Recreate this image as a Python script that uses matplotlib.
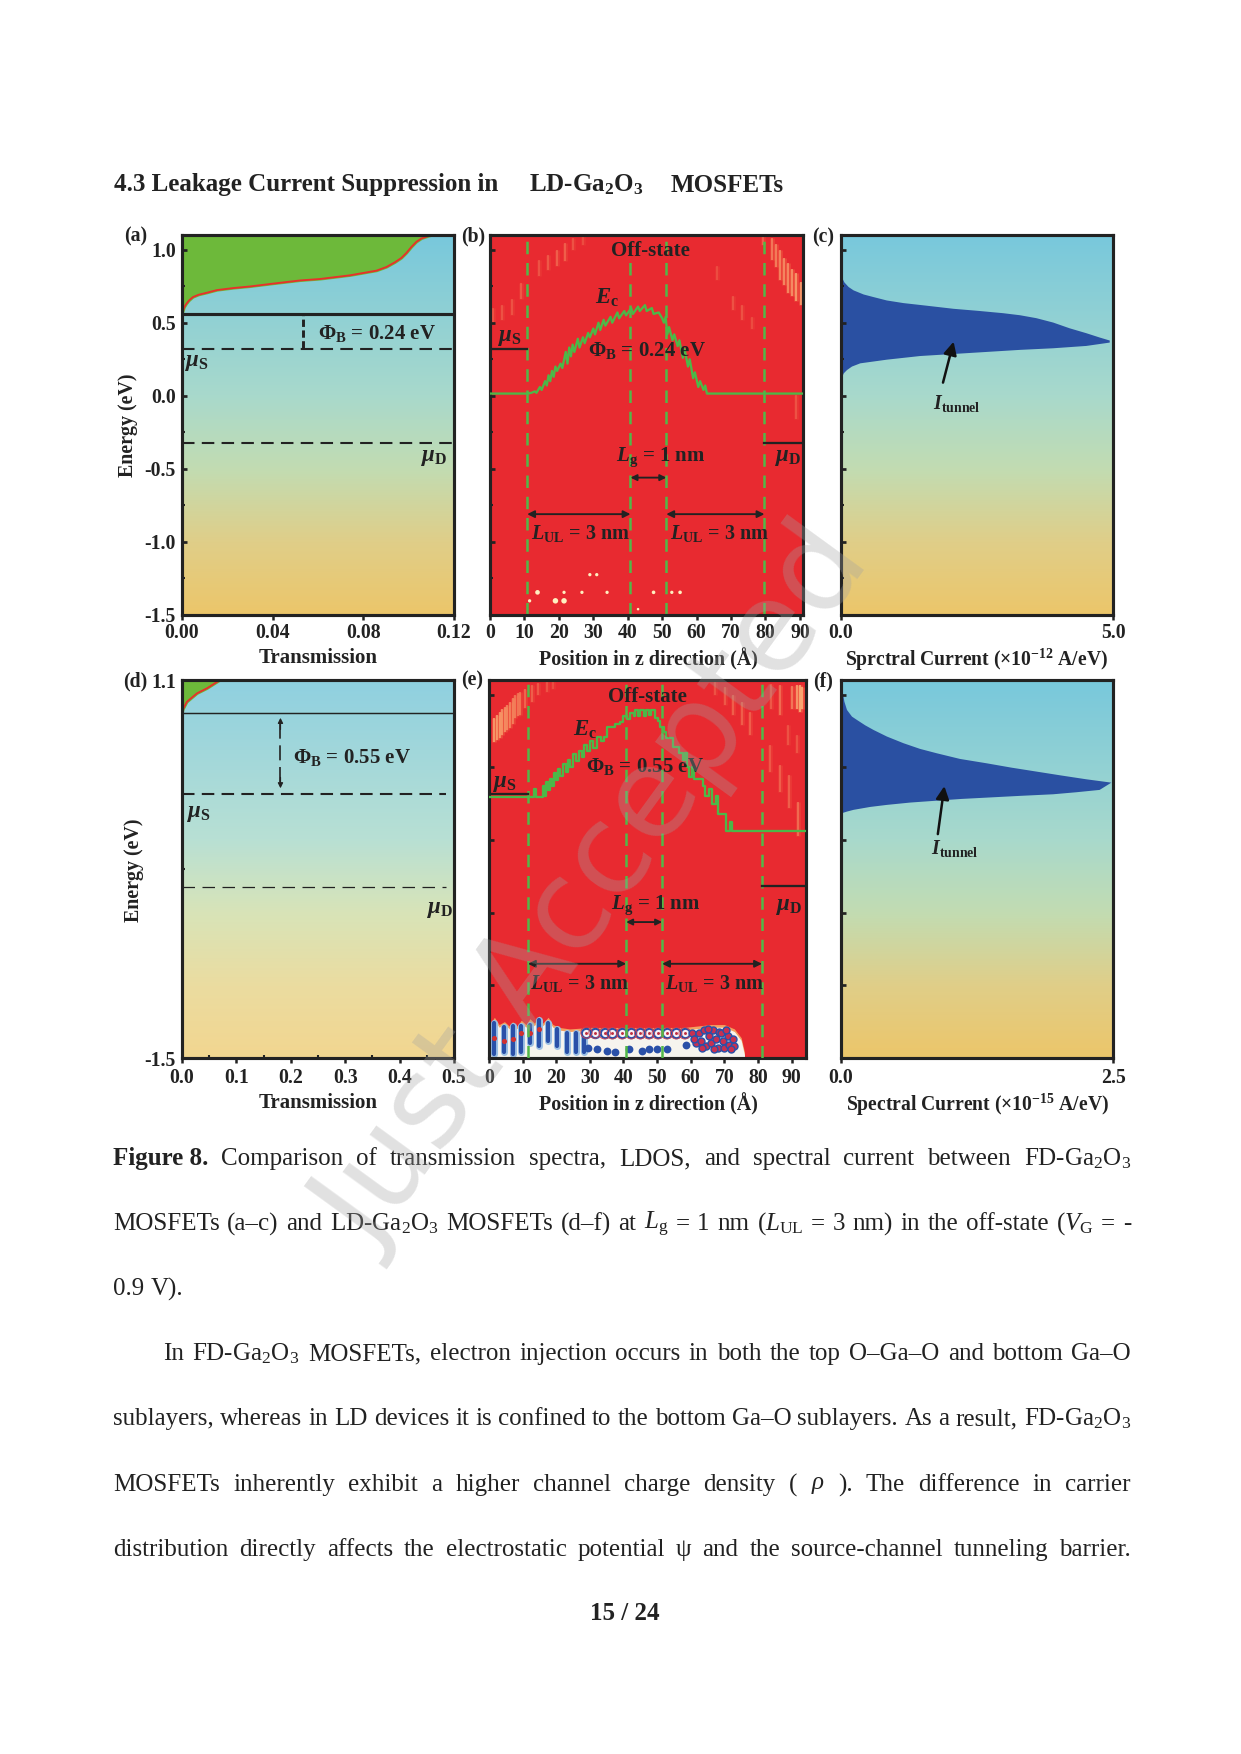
import numpy as np
import matplotlib
matplotlib.use('Agg')
import matplotlib.pyplot as plt
from matplotlib.colors import LinearSegmentedColormap

plt.rcParams.update({
    'font.family': ['Liberation Serif', 'DejaVu Sans'],
    'font.weight': 'bold',
    'mathtext.fontset': 'custom',
    'mathtext.default': 'regular',
    'mathtext.rm': 'Liberation Serif:normal',
    'mathtext.it': 'Liberation Serif:italic:normal',
    'mathtext.bf': 'Liberation Serif:bold',
    'mathtext.bfit': 'Liberation Serif:italic:bold',
    'axes.linewidth': 1.5,
    'text.color': '#222222',
    'axes.edgecolor': '#222222',
    'xtick.color': '#222222',
    'ytick.color': '#222222',
})

W, H, DPI = 1241, 1754, 150

# ---------------- data ----------------
T_a = [0, 0.0004, 0.001, 0.0019, 0.0031, 0.0048, 0.0073, 0.011, 0.0154, 0.0227, 0.0301, 0.0411, 0.0521, 0.0609, 0.0667, 0.0741,
       0.0814, 0.0858, 0.0902, 0.0939, 0.0968, 0.099, 0.1012, 0.1034, 0.1056, 0.1086, 0.1105]
E_a = [0.56, 0.577, 0.606, 0.629, 0.652, 0.675, 0.691, 0.705, 0.723, 0.737, 0.748, 0.769, 0.789, 0.799, 0.81, 0.824,
       0.844, 0.856, 0.881, 0.913, 0.943, 0.977, 1.018, 1.053, 1.076, 1.092, 1.10]
T_d = [0, 0.002, 0.009, 0.0275, 0.046, 0.07]
E_d = [0.87, 0.90, 0.95, 1.008, 1.043, 1.10]

I_c_up = [0, 0.024, 0.061, 0.14, 0.232, 0.416, 0.6, 0.843, 1.15, 1.58, 2.07, 2.52, 2.98, 3.29, 3.59, 3.9, 4.2, 4.51, 4.76, 4.94]
E_c_up = [0.84, 0.805, 0.776, 0.744, 0.721, 0.693, 0.675, 0.652, 0.634, 0.616, 0.595, 0.581, 0.565, 0.551, 0.531, 0.501, 0.462, 0.428, 0.398, 0.378]
I_c_lo = [4.94, 4.51, 3.9, 3.29, 2.68, 2.07, 1.455, 0.843, 0.355, 0.202, 0.11, 0.05, 0.024, 0]
E_c_lo = [0.364, 0.341, 0.325, 0.314, 0.30, 0.286, 0.272, 0.247, 0.222, 0.20, 0.176, 0.153, 0.13, 0.12]

I_f_up = [0, 0.018, 0.031, 0.055, 0.101, 0.147, 0.223, 0.30, 0.422, 0.575, 0.727, 0.88, 1.094, 1.339, 1.568, 1.797, 2.026, 2.255, 2.485]
E_f_up = [1.05, 1.008, 0.951, 0.894, 0.848, 0.825, 0.788, 0.756, 0.711, 0.665, 0.626, 0.596, 0.557, 0.527, 0.497, 0.47, 0.443, 0.417, 0.394]
I_f_lo = [2.377, 2.164, 1.95, 1.644, 1.339, 1.109, 0.88, 0.636, 0.422, 0.269, 0.116, 0.055, 0.009, 0]
E_f_lo = [0.344, 0.328, 0.314, 0.303, 0.291, 0.282, 0.27, 0.257, 0.241, 0.227, 0.207, 0.195, 0.184, 0.18]

Z_b = [0, 10.8, 12, 13, 13.5, 14.5, 15, 16, 16.5, 17, 17.5, 18, 18.5, 19, 19.5, 20.5, 21, 22, 22.5, 23, 23.5, 24, 24.5,
       25.5, 26, 27, 27.5, 28.5, 29, 30, 30.5, 31.5, 32, 33, 33.5, 35, 35.5, 37, 37.5, 39, 39.5, 41, 41.5, 43, 43.5,
       45, 45.5, 47, 47.5, 49, 50, 50.5, 51, 51.5, 52, 53, 53.5, 54.5, 55, 56, 56.5, 57.5, 58, 59, 59.5, 60.5, 61, 62,
       62.5, 63, 91]
E_b = [0.015, 0.015, 0.02, 0.03, 0.02, 0.06, 0.04, 0.10, 0.07, 0.14, 0.10, 0.17, 0.13, 0.20, 0.17, 0.22, 0.19, 0.30, 0.22,
       0.33, 0.27, 0.35, 0.30, 0.39, 0.33, 0.40, 0.36, 0.43, 0.40, 0.46, 0.42, 0.50, 0.45, 0.52, 0.48, 0.54, 0.50, 0.57,
       0.53, 0.58, 0.55, 0.60, 0.56, 0.61, 0.58, 0.62, 0.58, 0.60, 0.56, 0.57, 0.53, 0.50, 0.54, 0.42, 0.47, 0.38, 0.42,
       0.34, 0.38, 0.26, 0.32, 0.20, 0.25, 0.12, 0.16, 0.06, 0.10, 0.04, 0.07, 0.015, 0.015]

Z_e = [0, 13.5, 14, 16, 16.6, 17, 17.6, 18.2, 18.8, 19.4, 20, 20.6, 21.2, 22, 22.8, 23.4, 24.2, 25, 26, 26.8, 27.6, 28.2,
       29.2, 30, 31, 32, 33.4, 34.2, 35, 36.8, 37.5, 39, 39.8, 41, 42, 43, 43.4, 44.2, 44.8, 46, 46.6, 47.6, 48.2, 49.4,
       50.4, 51, 52, 52.6, 54, 54.6, 56, 56.6, 57.6, 58.4, 59, 59.6, 60.4, 61, 63.6, 64.4, 65.4, 66.2, 67.4, 68, 70, 70.5,
       71.8, 72.4, 94.3]
E_e = [0.295, 0.35, 0.295, 0.37, 0.30, 0.40, 0.34, 0.42, 0.37, 0.46, 0.41, 0.49, 0.44, 0.52, 0.47, 0.55, 0.50, 0.59, 0.54,
       0.61, 0.57, 0.65, 0.61, 0.68, 0.63, 0.71, 0.68, 0.71, 0.78, 0.78, 0.80, 0.81, 0.85, 0.83, 0.87, 0.85, 0.895, 0.85,
       0.895, 0.85, 0.895, 0.86, 0.895, 0.84, 0.82, 0.78, 0.74, 0.70, 0.70, 0.64, 0.64, 0.60, 0.55, 0.60, 0.50, 0.43, 0.50,
       0.42, 0.37, 0.30, 0.35, 0.25, 0.30, 0.18, 0.18, 0.06, 0.12, 0.06, 0.06]

# LDOS streaks: position, lower and upper energy, strength
sb_z = [0.97, 3.4, 6.3, 8.9, 14.2, 16.9, 19.4, 21.8, 24.2, 27.1, 79.4, 81.8, 83, 84.2, 85.4, 86.6, 87.8, 89, 90.2, 65.8, 70.7, 73.3, 76, 89]
sb_lo = [0.5, 0.52, 0.555, 0.66, 0.82, 0.86, 0.886, 0.92, 1.0, 1.034, 1.03, 0.93, 0.88, 0.79, 0.76, 0.70, 0.68, 0.645, 0.62, 0.795, 0.59, 0.52, 0.46, -0.16]
sb_hi = [0.6, 0.62, 0.66, 0.77, 0.93, 0.966, 1.0, 1.046, 1.08, 1.09, 1.09, 1.08, 1.04, 1.0, 0.94, 0.91, 0.87, 0.84, 0.78, 0.886, 0.68, 0.62, 0.54, 0.007]
sb_a = [0.3, 0.3, 0.3, 0.35, 0.3, 0.35, 0.4, 0.4, 0.3, 0.25, 0.4, 0.6, 0.65, 0.7, 0.75, 0.75, 0.8, 0.9, 0.9, 0.25, 0.3, 0.3, 0.25, 0.3]

se_z = [1.6, 2.5, 3.3, 4, 4.75, 5.5, 6.2, 7, 7.7, 8.5, 9.2, 10.7, 12.7, 14.7, 17.2, 19.1, 67.2, 70.2, 72.7, 75.2, 77.7, 83.6, 86.6, 89.1, 92,
        92.5, 93.2, 91.6, 90, 86.6, 84, 89, 91.6]
se_lo = [0.676, 0.69, 0.70, 0.72, 0.744, 0.755, 0.767, 0.80, 0.836, 0.85, 0.859, 0.905, 0.95, 0.996, 1.02, 1.04, 1.0, 0.93, 0.86, 0.79, 0.72, 0.47, 0.33, 0.22,
         0.03, 0.88, 0.90, 0.90, 0.90, 0.86, 0.90, 0.65, 0.60]
se_hi = [0.84, 0.86, 0.88, 0.90, 0.916, 0.93, 0.95, 0.975, 0.996, 1.01, 1.02, 1.04, 1.065, 1.08, 1.09, 1.09, 1.09, 1.05, 0.996, 0.95, 0.88, 0.65, 0.515, 0.45,
         0.26, 1.065, 1.05, 1.065, 1.06, 1.065, 1.07, 0.79, 0.72]
se_a = [0.9, 0.85, 0.8, 0.75, 0.7, 0.65, 0.65, 0.6, 0.55, 0.5, 0.5, 0.45, 0.4, 0.35, 0.3, 0.25, 0.3, 0.35, 0.4, 0.4, 0.4, 0.35, 0.4, 0.4, 0.5, 1.0, 1.0, 0.9, 0.6, 0.5, 0.35, 0.3, 0.3]

dots_b_z = [13.8, 19, 21.5, 29, 31, 21.5, 26.7, 34, 11.5, 47.5, 52.8, 55.2, 43]
dots_b_E = [-1.345, -1.403, -1.403, -1.224, -1.224, -1.345, -1.345, -1.345, -1.403, -1.345, -1.345, -1.345, -1.46]
dots_b_s = [5, 7, 7, 2.5, 2.5, 2.5, 2.5, 2.5, 2.5, 3, 2.5, 3, 1.5]

# standing-wave band at the bottom of panel (e)
band_z = [0.5, 1.6, 3, 4.6, 6, 7, 8.4, 9.6, 11, 12.2, 13.5, 14.9, 16, 17.6, 19, 21, 24, 30, 36, 42, 50, 58, 62, 66, 70, 73, 75, 76]
band_top = [-1.26, -1.22, -1.27, -1.25, -1.28, -1.25, -1.28, -1.24, -1.27, -1.23, -1.26, -1.21, -1.26, -1.22, -1.27, -1.29, -1.30, -1.29, -1.29, -1.29, -1.29,
            -1.29, -1.28, -1.27, -1.27, -1.30, -1.36, -1.46]
col_z = [1.6, 4.6, 7.0, 9.6, 12.2, 14.9, 17.6, 20.2, 23.2, 25.8, 28.3]
col_lo = [-1.47, -1.46, -1.47, -1.46, -1.40, -1.42, -1.38, -1.42, -1.46, -1.46, -1.46]
col_hi = [-1.26, -1.29, -1.28, -1.28, -1.27, -1.24, -1.26, -1.30, -1.33, -1.33, -1.32]
col_dot_E = [-1.36, -1.38, -1.37, -1.33, -1.33, -1.30]
ring_z = [29, 31.4, 34.4, 36.7, 39.6, 42.3, 45, 47.5, 50.2, 52.9, 55.7, 58.2]
ring_E = [-1.325, -1.325, -1.33, -1.33, -1.33, -1.33, -1.33, -1.33, -1.33, -1.33, -1.33, -1.33]
blob_z = [29.5, 32, 35, 37.5, 41.5, 45.5, 47.5, 50, 53, 58.5]
blob_E = [-1.43, -1.44, -1.45, -1.46, -1.44, -1.45, -1.44, -1.44, -1.44, -1.41]
clus_z = [60.5, 61.5, 62.5, 63, 64, 64.5, 65.5, 66, 66.5, 67.5, 68, 68.5, 69.5, 70, 71, 71.5, 72.5, 73, 61, 63.5, 65, 67, 69, 70.5, 72]
clus_E = [-1.33, -1.40, -1.33, -1.38, -1.31, -1.42, -1.35, -1.40, -1.31, -1.37, -1.43, -1.32, -1.38, -1.43, -1.35, -1.41, -1.37, -1.42,
          -1.37, -1.43, -1.30, -1.44, -1.33, -1.31, -1.44]

yticks_ab = [-1.5, -1.0, -0.5, 0.0, 0.5, 1.0]
yticklabs_a = ['-1.5', '-1.0', '-0.5', '0.0', '0.5', '1.0']
xt_a = [0, 0.04, 0.08, 0.12]
xl_a = ['0.00', '0.04', '0.08', '0.12']
xt_z = list(range(0, 100, 10))
xt_d = [0, 0.1, 0.2, 0.3, 0.4, 0.5]
xl_d = ['0.0', '0.1', '0.2', '0.3', '0.4', '0.5']

gate_b = [10.8, 40.8, 51.2, 79.7]
gate_e = [11.6, 40.8, 51.5, 81.2]

# ---------------- figure helpers ----------------
fig = plt.figure(figsize=(W / DPI, H / DPI), dpi=DPI, facecolor='white')


def box(l, t, r, b):
    return fig.add_axes([l / W, 1 - b / H, (r - l) / W, (b - t) / H])


def ptext(x, y, s, **kw):
    kw.setdefault('ha', 'left')
    kw.setdefault('va', 'center')
    kw.setdefault('zorder', 5)
    return fig.text(x / W, 1 - y / H, s, **kw)


CM1 = LinearSegmentedColormap.from_list('g1', [(0, '#ECC66A'), (0.19, '#E0CE88'), (0.385, '#C2DCB2'), (0.58, '#A8D9CC'), (1, '#78C8DC')])
CM2 = LinearSegmentedColormap.from_list('g2', [(0, '#F2D690'), (0.19, '#EBDCA0'), (0.385, '#D8E4B8'), (0.58, '#B8E0D4'), (1, '#8FD0E0')])


def gradient(ax, cmap, x1):
    g = np.linspace(1, 0, 256).reshape(-1, 1)
    ax.imshow(g, cmap=cmap, extent=[0, x1, -1.5, 1.1], aspect='auto', vmin=0, vmax=1, zorder=0)


def dress(ax, xt, xl, xlim, yt, yl=None, xminor=None, yminor=None, pad=2.0):
    ax.set_xlim(*xlim)
    ax.set_ylim(-1.5, 1.1)
    ax.set_xticks(xt, xl, fontsize=9.5, fontweight='bold')
    ax.set_yticks(yt, yl if yl else [''] * len(yt), fontsize=9.5, fontweight='bold')
    ax.tick_params(axis='x', direction='out', length=2.6, width=1.2, pad=pad)
    ax.tick_params(axis='y', direction='in', length=2.6, width=1.3, pad=3)
    if yminor:
        ax.set_yticks(yminor, minor=True)
        ax.tick_params(axis='y', which='minor', direction='in', length=1.5, width=1)
    if xminor:
        ax.set_xticks(xminor, minor=True)
        ax.tick_params(axis='x', which='minor', direction='in', length=1.5, width=1)


def arrow(ax, x0, y0, x1, y1, lw=0.9, ms=7):
    ax.annotate('', xy=(x1, y1), xytext=(x0, y0),
                arrowprops=dict(arrowstyle='<|-|>', color='#222222', lw=lw, mutation_scale=ms, shrinkA=0, shrinkB=0), zorder=6)


def streaks(ax, z, lo, hi, a):
    ax.vlines(z, lo, hi, colors=[(0.98, 0.62, 0.36, 0.35 * v) for v in a], lw=2.2, zorder=1)
    ax.vlines(z, lo, hi, colors=[(0.99, 0.74, 0.50, 0.75 * v) for v in a], lw=0.9, zorder=1)


minor_y = [-1.25, -0.75, -0.25, 0.25, 0.75]
FS = 10

# ---------------- panel a ----------------
ax = box(182, 235, 454, 615)
gradient(ax, CM1, 0.12)
ax.fill_betweenx(E_a, 0, T_a, color='#6DB93A', zorder=1)
ax.plot(T_a, E_a, color='#E8302A', lw=0.9, zorder=2)
ax.axhline(0.56, color='#222222', lw=1.5, zorder=3)
ax.plot([0, 0.12], [0.32, 0.32], color='#222222', lw=1.0, ls=(0, (6, 3.5)), zorder=3)
ax.plot([0, 0.12], [-0.32, -0.32], color='#222222', lw=1.0, ls=(0, (6, 3.5)), zorder=3)
ax.plot([0.0535, 0.0535], [0.33, 0.55], color='#222222', lw=1.4, ls=(0, (2.5, 1.2)), zorder=3)
ax.text(0.086, 0.425, r'$\mathbf{\Phi}_{\mathbf{B}}$ = 0.24 eV', fontsize=FS, ha='center', va='center')
ax.text(0.0015, 0.23, r'$\mathbfit{\mu}_{\mathbf{S}}$', fontsize=FS + 1, ha='left', va='center')
ax.text(0.1115, -0.425, r'$\mathbfit{\mu}_{\mathbf{D}}$', fontsize=FS + 1, ha='center', va='center')
dress(ax, xt_a, xl_a, (0, 0.12), yticks_ab, yticklabs_a, yminor=minor_y, pad=1.4)

# ---------------- panel b ----------------
ax = box(490, 235, 803, 615)
ax.set_facecolor('#E82A30')
streaks(ax, sb_z, sb_lo, sb_hi, sb_a)
ax.scatter(dots_b_z, dots_b_E, s=dots_b_s, color='#FFF0C0', lw=0, zorder=1)
for g in gate_b:
    ax.axvline(g, color='#52B848', lw=1.2, ls=(0, (5, 3.5)), zorder=2)
ax.plot(Z_b, E_b, color='#4CB848', lw=1.1, zorder=3)
ax.plot([0, gate_b[0]], [0.32, 0.32], color='#222222', lw=1.1, zorder=3)
ax.plot([gate_b[3], 91], [-0.32, -0.32], color='#222222', lw=1.1, zorder=3)
arrow(ax, gate_b[0], -0.81, gate_b[1], -0.81)
arrow(ax, gate_b[2], -0.81, gate_b[3], -0.81)
arrow(ax, gate_b[1], -0.56, gate_b[2], -0.56, ms=6)
ax.text(46.5, 0.99, 'Off-state', fontsize=FS, ha='center', va='center', zorder=6)
ax.text(34, 0.67, r'$\mathbfit{E}_{\mathbf{c}}$', fontsize=FS + 1, ha='center', va='center', zorder=6)
ax.text(45.6, 0.31, r'$\mathbf{\Phi}_{\mathbf{B}}$ = 0.24 eV', fontsize=FS, ha='center', va='center', zorder=6)
ax.text(5.8, 0.40, r'$\mathbfit{\mu}_{\mathbf{S}}$', fontsize=FS + 1, ha='center', va='center', zorder=6)
ax.text(86.5, -0.42, r'$\mathbfit{\mu}_{\mathbf{D}}$', fontsize=FS + 1, ha='center', va='center', zorder=6)
ax.text(49.6, -0.42, r'$\mathbfit{L}_{\mathbf{g}}$ = 1 nm', fontsize=FS, ha='center', va='center', zorder=6)
ax.text(26.2, -0.94, r'$\mathbfit{L}_{\mathbf{UL}}$ = 3 nm', fontsize=FS - 0.3, ha='center', va='center', zorder=6)
ax.text(66.6, -0.94, r'$\mathbfit{L}_{\mathbf{UL}}$ = 3 nm', fontsize=FS - 0.3, ha='center', va='center', zorder=6)
dress(ax, xt_z, [str(v) for v in xt_z], (0, 90.9), yticks_ab, yminor=minor_y, pad=1.4)

# ---------------- panel c ----------------
ax = box(841, 235, 1113, 615)
gradient(ax, CM1, 5)
ax.fill(I_c_up + I_c_lo, E_c_up + E_c_lo, color='#2A50A2', lw=0, zorder=1)
ax.annotate('', xy=(2.07, 0.37), xytext=(1.875, 0.09),
            arrowprops=dict(arrowstyle='-|>', color='#111111', lw=1.2, mutation_scale=13, shrinkA=0, shrinkB=0), zorder=4)
ax.text(2.13, -0.05, r'$\mathbfit{I}_{\mathbf{tunnel}}$', fontsize=FS - 0.5, ha='center', va='center')
dress(ax, [0, 5], ['0.0', '5.0'], (0, 5), yticks_ab, yminor=minor_y, pad=1.4)

# ---------------- panel d ----------------
ax = box(182, 680, 454, 1058)
gradient(ax, CM2, 0.5)
ax.fill_betweenx(E_d, 0, T_d, color='#6DB93A', zorder=1)
ax.plot(T_d, E_d, color='#E8302A', lw=0.9, zorder=2)
ax.axhline(0.87, color='#222222', lw=0.7, zorder=3)
ax.plot([0, 0.485], [0.317, 0.317], color='#222222', lw=1.0, ls=(0, (6, 3.5)), zorder=3)
ax.plot([0, 0.485], [-0.325, -0.325], color='#222222', lw=0.6, ls=(0, (10, 6)), zorder=3)
ax.plot([0.181, 0.181], [0.40, 0.80], color='#222222', lw=0.8, ls=(0, (9, 4)), zorder=3)
ax.annotate('', xy=(0.181, 0.84), xytext=(0.181, 0.76), arrowprops=dict(arrowstyle='-|>', color='#222222', lw=0.6, mutation_scale=5, shrinkA=0, shrinkB=0))
ax.annotate('', xy=(0.181, 0.355), xytext=(0.181, 0.43), arrowprops=dict(arrowstyle='-|>', color='#222222', lw=0.6, mutation_scale=5, shrinkA=0, shrinkB=0))
ax.text(0.312, 0.566, r'$\mathbf{\Phi}_{\mathbf{B}}$ = 0.55 eV', fontsize=FS, ha='center', va='center')
ax.text(0.032, 0.18, r'$\mathbfit{\mu}_{\mathbf{S}}$', fontsize=FS + 1, ha='center', va='center')
ax.text(0.475, -0.48, r'$\mathbfit{\mu}_{\mathbf{D}}$', fontsize=FS + 1, ha='center', va='center')
dress(ax, xt_d, xl_d, (0, 0.5), [-1.5, 1.1], ['-1.5', '1.1'], xminor=[0.05, 0.15, 0.25, 0.35, 0.45], yminor=[-0.2])

# ---------------- panel e ----------------
ax = box(489, 680, 806, 1058)
ax.set_facecolor('#E82A30')
streaks(ax, se_z, se_lo, se_hi, se_a)
ax.fill_between(band_z, -1.5, band_top, color='#F4A060', lw=0, zorder=1)
ax.fill_between(band_z, -1.5, np.array(band_top) - 0.018, color='#F6F4EE', lw=0, zorder=1)
ax.vlines(col_z, col_lo, col_hi, color='#9CC0E4', lw=3.4, capstyle='round', zorder=2)
ax.vlines(col_z, col_lo, col_hi, color='#2A50A8', lw=2.0, capstyle='round', zorder=2)
ax.scatter(col_z[:6], col_dot_E, s=6, color='#D03030', lw=0, zorder=3)
ax.scatter(ring_z, ring_E, s=20, facecolors='#F5F0F5', edgecolors='#2A50A8', lw=1.0, zorder=2)
ax.scatter(ring_z, ring_E, s=30, facecolors='none', edgecolors='#D04050', lw=0.4, zorder=2)
ax.scatter(ring_z, ring_E, s=2, color='#C03040', lw=0, zorder=2)
ax.scatter(blob_z, blob_E, s=14, color='#2A50A8', lw=0, zorder=2)
ax.scatter(clus_z, clus_E, s=11, facecolors='#C83050', edgecolors='#2A50A8', lw=0.7, zorder=2)
for g in gate_e:
    ax.axvline(g, color='#52B848', lw=1.2, ls=(0, (5, 3.5)), zorder=3)
ax.step(Z_e, E_e, where='post', color='#4CB848', lw=1.1, zorder=4)
ax.plot([0, gate_e[0]], [0.317, 0.317], color='#222222', lw=1.1, zorder=3)
ax.plot([gate_e[3], 94.3], [-0.32, -0.32], color='#222222', lw=1.1, zorder=3)
arrow(ax, gate_e[0], -0.852, gate_e[1], -0.852)
arrow(ax, gate_e[2], -0.852, gate_e[3], -0.852)
arrow(ax, gate_e[1], -0.565, gate_e[2], -0.565, ms=6)
ax.text(47, 0.985, 'Off-state', fontsize=FS, ha='center', va='center', zorder=6)
ax.text(28.6, 0.756, r'$\mathbfit{E}_{\mathbf{c}}$', fontsize=FS + 1, ha='center', va='center', zorder=6)
ax.text(46.4, 0.505, r'$\mathbf{\Phi}_{\mathbf{B}}$ = 0.55 eV', fontsize=FS, ha='center', va='center', zorder=6)
ax.text(4.8, 0.39, r'$\mathbfit{\mu}_{\mathbf{S}}$', fontsize=FS + 1, ha='center', va='center', zorder=6)
ax.text(89.3, -0.46, r'$\mathbfit{\mu}_{\mathbf{D}}$', fontsize=FS + 1, ha='center', va='center', zorder=6)
ax.text(49.7, -0.447, r'$\mathbfit{L}_{\mathbf{g}}$ = 1 nm', fontsize=FS, ha='center', va='center', zorder=6)
ax.text(26.8, -0.985, r'$\mathbfit{L}_{\mathbf{UL}}$ = 3 nm', fontsize=FS - 0.3, ha='center', va='center', zorder=6)
ax.text(67.2, -0.985, r'$\mathbfit{L}_{\mathbf{UL}}$ = 3 nm', fontsize=FS - 0.3, ha='center', va='center', zorder=6)
dress(ax, xt_z, [str(v) for v in xt_z], (0, 94.3), [-1.0, -0.5, 0, 0.5, 1.0])

# ---------------- panel f ----------------
ax = box(841, 680, 1113, 1058)
gradient(ax, CM1, 2.5)
ax.fill(I_f_up + I_f_lo, E_f_up + E_f_lo, color='#2A50A2', lw=0, zorder=1)
ax.annotate('', xy=(0.95, 0.37), xytext=(0.89, 0.04),
            arrowprops=dict(arrowstyle='-|>', color='#111111', lw=1.2, mutation_scale=13, shrinkA=0, shrinkB=0), zorder=4)
ax.text(1.05, -0.06, r'$\mathbfit{I}_{\mathbf{tunnel}}$', fontsize=FS - 0.5, ha='center', va='center')
dress(ax, [0, 2.5], ['0.0', '2.5'], (0, 2.5), [-1.0, -0.5, 0, 0.5, 1.0])

# ---------------- panel letters and axis titles ----------------
for (x, y, s) in [(136, 236, '(a)'), (473, 236, '(b)'), (823, 237, '(c)'), (135, 681, '(d)'), (472, 680, '(e)'), (823, 681, '(f)')]:
    ptext(x, y, s, fontsize=FS - 0.5, ha='center')
ptext(318, 658, 'Transmission', fontsize=FS, ha='center')
ptext(318, 1103, 'Transmission', fontsize=FS, ha='center')
ptext(128, 425, 'Energy (eV)', fontsize=FS - 0.4, ha='center', rotation=90)
ptext(134, 870, 'Energy (eV)', fontsize=FS - 0.4, ha='center', rotation=90)
ptext(648, 659, 'Position in z direction (Å)', fontsize=FS - 0.4, ha='center')
ptext(648, 1104, 'Position in z direction (Å)', fontsize=FS - 0.4, ha='center')
ptext(976, 660, r'Sprctral Current ($\times$10$^{\mathbf{-12}}$ A/eV)', fontsize=FS - 0.55, ha='center')
ptext(977, 1105, r'Spectral Current ($\times$10$^{\mathbf{-15}}$ A/eV)', fontsize=FS - 0.55, ha='center')

# ---------------- page text ----------------
renderer = fig.canvas.get_renderer()
LEFT, RIGHT = 113, 1131
FT = 12


def justified(y, tokens, x0=LEFT, x1=RIGHT, justify=True):
    arts = []
    for tk in tokens:
        s, w = tk if isinstance(tk, tuple) else (tk, 'normal')
        arts.append(ptext(0, y, s, fontsize=FT, fontweight=w, color='#222222'))
    widths = [a.get_window_extent(renderer).width for a in arts]
    gap = (x1 - x0 - sum(widths)) / max(len(arts) - 1, 1) if justify else 6.2
    x = x0
    for a, wd in zip(arts, widths):
        a.set_x(x / W)
        x += wd + gap


ptext(114, 185, '4.3 Leakage Current Suppression in', fontsize=FT, fontweight='bold')
ptext(529, 185, r'LD-Ga$_{\mathbf{2}}$O$_{\mathbf{3}}$', fontsize=FT, fontweight='bold')
ptext(671, 185, 'MOSFETs', fontsize=FT, fontweight='bold')

justified(1159, [('Figure 8.', 'bold')] + 'Comparison of transmission spectra, LDOS, and spectral current between'.split() + [r'FD-Ga$_2$O$_3$'])
justified(1224, ['MOSFETs', '(a–c)', 'and', r'LD-Ga$_2$O$_3$', 'MOSFETs', '(d–f)', 'at', r'$\mathit{L}_{\mathrm{g}}$', '=', '1', 'nm',
                 r'($\mathit{L}_{\mathrm{UL}}$', '=', '3', 'nm)', 'in', 'the', 'off-state', r'($\mathit{V}_{\mathrm{G}}$', '=', '-'])
justified(1289, ['0.9', 'V).'], justify=False)
justified(1354, ['In', r'FD-Ga$_2$O$_3$'] + 'MOSFETs, electron injection occurs in both the top O–Ga–O and bottom Ga–O'.split(), x0=163)
justified(1419, 'sublayers, whereas in LD devices it is confined to the bottom Ga–O sublayers. As a result,'.split() + [r'FD-Ga$_2$O$_3$'])
justified(1485, ['MOSFETs', 'inherently', 'exhibit', 'a', 'higher', 'channel', 'charge', 'density', '(', r'$\mathit{\rho}$', ').', 'The', 'difference', 'in', 'carrier'])
justified(1550, 'distribution directly affects the electrostatic potential ψ and the source-channel tunneling barrier.'.split())
ptext(625, 1613, '15 / 24', fontsize=FT, fontweight='bold', ha='center')

# ---------------- watermark ----------------
ptext(596, 890, 'Just Accepted', fontsize=60, family=['DejaVu Sans'], fontweight='normal', color='#A2A2A2', alpha=0.32,
      rotation=54, rotation_mode='anchor', ha='center', va='center', zorder=20)

fig.savefig('out.png', dpi=DPI)
